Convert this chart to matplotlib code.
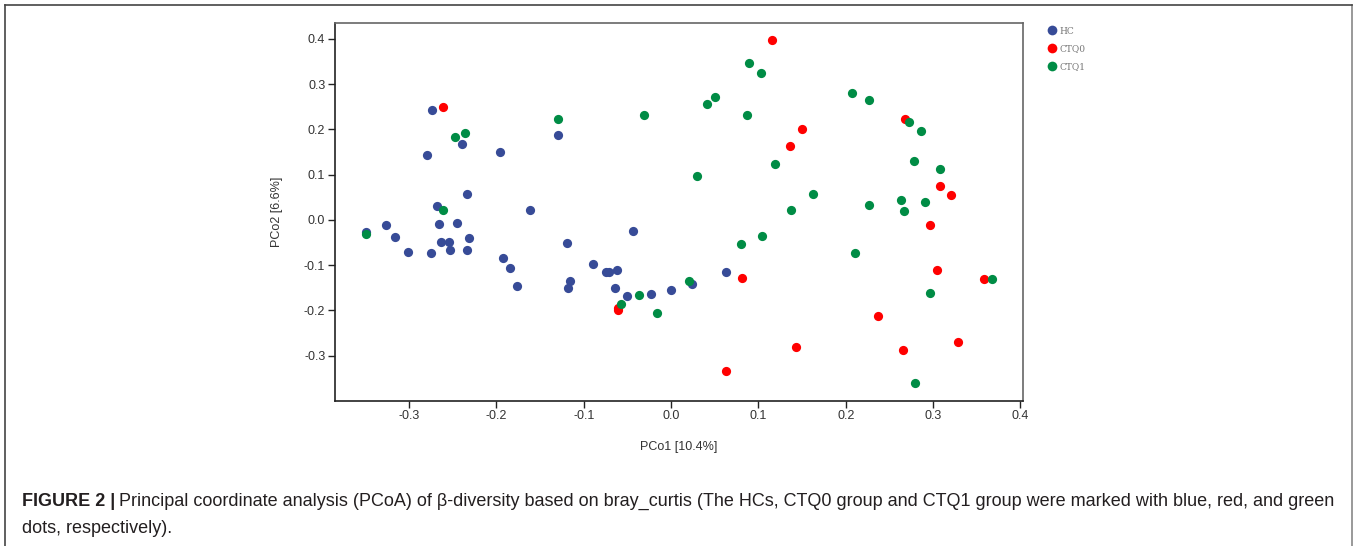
import matplotlib
matplotlib.use("Agg")
import matplotlib.pyplot as plt
from matplotlib.lines import Line2D

# PCoA coordinates
hc_x = [-0.274, -0.240, -0.280, -0.196, -0.129, -0.234, -0.268, -0.162, -0.350,
        -0.326, -0.316, -0.301, -0.275, -0.266, -0.245, -0.263, -0.254, -0.253,
        -0.232, -0.234, -0.192, -0.185, -0.177, -0.119, -0.116, -0.118, -0.044,
        -0.089, -0.074, -0.071, -0.062, -0.064, -0.051, -0.023, 0.000, 0.024, 0.063]
hc_y = [0.243, 0.167, 0.143, 0.149, 0.188, 0.057, 0.031, 0.022, -0.027,
        -0.012, -0.038, -0.070, -0.074, -0.010, -0.007, -0.048, -0.048, -0.066,
        -0.041, -0.066, -0.085, -0.107, -0.145, -0.052, -0.135, -0.150, -0.024,
        -0.097, -0.115, -0.114, -0.110, -0.150, -0.168, -0.163, -0.155, -0.141, -0.114]

ctq0_x = [-0.261, 0.116, 0.150, 0.136, -0.061, -0.061, 0.081, 0.063, 0.143,
          0.268, 0.308, 0.321, 0.296, 0.304, 0.358, 0.237, 0.266, 0.329]
ctq0_y = [0.249, 0.398, 0.201, 0.164, -0.194, -0.200, -0.129, -0.334, -0.280,
          0.224, 0.074, 0.054, -0.011, -0.111, -0.131, -0.213, -0.288, -0.270]

ctq1_x = [-0.248, -0.236, -0.129, -0.261, -0.349, -0.031, 0.089, 0.103, 0.050,
          0.041, 0.087, 0.119, 0.030, 0.137, -0.037, 0.020, -0.057, -0.016,
          0.080, 0.104, 0.207, 0.227, 0.273, 0.286, 0.278, 0.308, 0.162, 0.227,
          0.263, 0.291, 0.267, 0.211, 0.367, 0.296, 0.279]
ctq1_y = [0.183, 0.192, 0.223, 0.021, -0.032, 0.231, 0.347, 0.325, 0.271,
          0.255, 0.231, 0.123, 0.097, 0.022, -0.166, -0.136, -0.185, -0.206,
          -0.053, -0.035, 0.281, 0.265, 0.216, 0.196, 0.130, 0.112, 0.057, 0.033,
          0.044, 0.039, 0.019, -0.073, -0.130, -0.162, -0.361]

groups = ["HC", "CTQ0", "CTQ1"]
colors = {"HC": "#374b97", "CTQ0": "#ff0000", "CTQ1": "#008c45"}
ticks = [-0.3, -0.2, -0.1, 0.0, 0.1, 0.2, 0.3, 0.4]

plt.rcParams['font.family'] = ['Liberation Sans', 'DejaVu Sans']

fig = plt.figure(figsize=(13.54, 5.46), dpi=100)
ax = fig.add_axes([0.2474, 0.2656, 0.5081, 0.6923])

ax.scatter(hc_x, hc_y, s=44, color=colors["HC"], linewidths=0, zorder=3)
ax.scatter(ctq0_x, ctq0_y, s=44, color=colors["CTQ0"], linewidths=0, zorder=3)
ax.scatter(ctq1_x, ctq1_y, s=44, color=colors["CTQ1"], linewidths=0, zorder=3)

ax.set_xlim(-0.385, 0.403)
ax.set_ylim(-0.40, 0.435)
ax.set_xticks(ticks)
ax.set_yticks(ticks)
ax.set_xticklabels([f"{t:.1f}" for t in ticks])
ax.set_yticklabels([f"{t:.1f}" for t in ticks])
ax.tick_params(direction='out', length=5, width=1, labelsize=9,
               labelcolor='#333333', color='#222222')
ax.tick_params(axis='x', pad=1.5)
ax.tick_params(axis='y', pad=2)
for side in ['left', 'bottom']:
    ax.spines[side].set_color('#222222')
    ax.spines[side].set_linewidth(1.2)
for side in ['top', 'right']:
    ax.spines[side].set_color('#666666')
    ax.spines[side].set_linewidth(1.2)

ax.set_xlabel("PCo1 [10.4%]", fontsize=9, color='#333333', labelpad=14)
ax.set_ylabel("PCo2 [6.6%]", fontsize=9, color='#333333', labelpad=15)

# legend at the upper right, outside the axes
handles = [Line2D([], [], marker='o', linestyle='', markersize=7,
                  markerfacecolor=colors[g], markeredgewidth=0) for g in groups]
fig.legend(handles, groups, loc='upper left', bbox_to_anchor=(0.7705, 0.958),
           frameon=False, prop={'family': 'DejaVu Serif', 'size': 6.5},
           labelcolor='#777777', handletextpad=0.2, labelspacing=0.95,
           handlelength=1.2, borderaxespad=0)

# outer frame
fig.add_artist(Line2D([0.0037, 0.0037], [0, 0.991], color='#444444', lw=1.2,
                      transform=fig.transFigure))
fig.add_artist(Line2D([0.9985, 0.9985], [0, 0.991], color='#888888', lw=1.2,
                      transform=fig.transFigure))
fig.add_artist(Line2D([0.0037, 0.9985], [0.991, 0.991], color='#444444', lw=1.2,
                      transform=fig.transFigure))

# caption
cap_size = 13
bold = fig.text(0.0163, 0.074, "FIGURE 2 |", fontsize=cap_size, fontweight='bold',
                color='#231f20', va='baseline')
fig.canvas.draw()
bb = bold.get_window_extent(renderer=fig.canvas.get_renderer())
x_next = bb.x1 / fig.bbox.width + 0.003
fig.text(x_next, 0.074,
         "Principal coordinate analysis (PCoA) of \u03b2-diversity based on bray_curtis "
         "(The HCs, CTQ0 group and CTQ1 group were marked with blue, red, and green",
         fontsize=cap_size, color='#231f20', va='baseline')
fig.text(0.0163, 0.024, "dots, respectively).", fontsize=cap_size,
         color='#231f20', va='baseline')

fig.savefig("out.png", dpi=100)
